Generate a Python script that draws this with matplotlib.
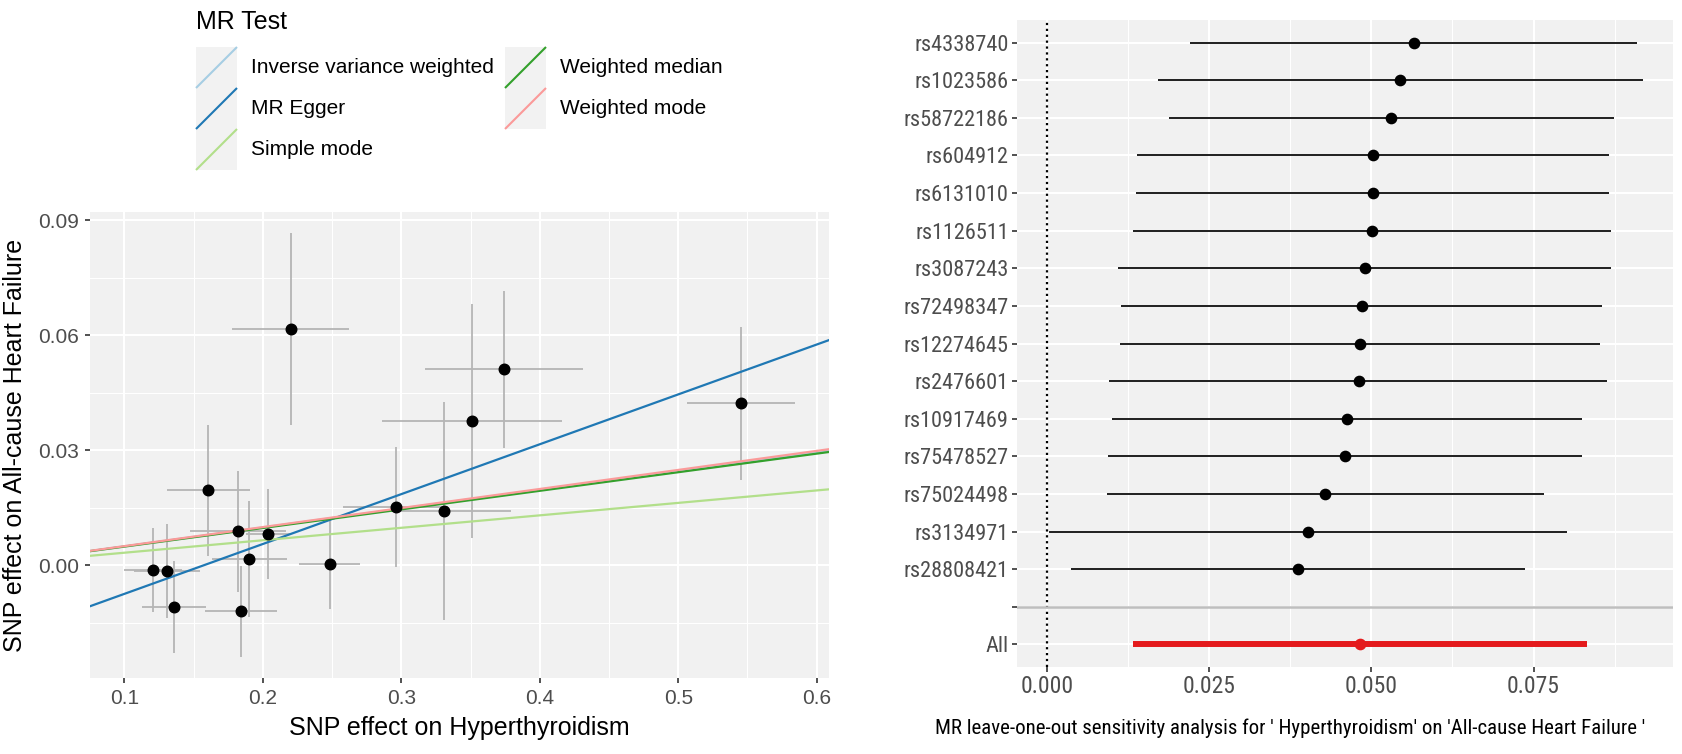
import numpy as np
import matplotlib
matplotlib.use("Agg")
import matplotlib.pyplot as plt
from matplotlib import font_manager
from matplotlib.patches import Rectangle

W, H, DPI = 1682, 754, 100

# --- left panel: SNP effects (exposure vs outcome) ---
beta_exp = [0.1205, 0.1308, 0.1361, 0.1606, 0.1821, 0.1904, 0.1846, 0.2039,
            0.2201, 0.2482, 0.2960, 0.3310, 0.3514, 0.3740, 0.5456]
se_exp = [0.021, 0.024, 0.023, 0.030, 0.035, 0.027, 0.026, 0.016,
          0.042, 0.022, 0.038, 0.048, 0.065, 0.057, 0.039]
beta_out = [-0.0013, -0.0015, -0.0109, 0.0195, 0.0088, 0.0016, -0.0120, 0.0082,
            0.0616, 0.0004, 0.0151, 0.0141, 0.0376, 0.0511, 0.0422]
se_out = [0.0110, 0.0123, 0.0121, 0.0170, 0.0157, 0.0152, 0.0119, 0.0118,
          0.0250, 0.0119, 0.0157, 0.0284, 0.0306, 0.0205, 0.0200]

methods = ["Inverse variance weighted", "MR Egger", "Simple mode",
           "Weighted median", "Weighted mode"]
slopes = [0.0492, 0.1301, 0.0325, 0.0485, 0.0497]
intercepts = [0.0, -0.0205, 0.0, 0.0, 0.0]
method_colors = ["#a6cee3", "#1f78b4", "#b2df8a", "#33a02c", "#fb9a99"]

# --- right panel: leave-one-out ---
snps = ["rs4338740", "rs1023586", "rs58722186", "rs604912", "rs6131010",
        "rs1126511", "rs3087243", "rs72498347", "rs12274645", "rs2476601",
        "rs10917469", "rs75478527", "rs75024498", "rs3134971", "rs28808421"]
loo_b = [0.0566, 0.0545, 0.0531, 0.0503, 0.0503, 0.0501, 0.0490, 0.0485,
         0.0482, 0.0481, 0.0463, 0.0459, 0.0429, 0.0402, 0.0387]
loo_lo = [0.0221, 0.0171, 0.0188, 0.0139, 0.0138, 0.0133, 0.0110, 0.0115,
          0.0113, 0.0096, 0.0101, 0.0094, 0.0092, 0.0003, 0.0038]
loo_up = [0.0910, 0.0919, 0.0874, 0.0867, 0.0866, 0.0870, 0.0870, 0.0856,
          0.0853, 0.0863, 0.0825, 0.0824, 0.0766, 0.0802, 0.0737]
all_b, all_lo, all_up = 0.0483, 0.0133, 0.0833

x_ticks_left = [0.1, 0.2, 0.3, 0.4, 0.5, 0.6]
y_ticks_left = [0.00, 0.03, 0.06, 0.09]
x_ticks_right = [0.000, 0.025, 0.050, 0.075]


def pick_font(names):
    avail = {f.name for f in font_manager.fontManager.ttflist}
    for n in names:
        if n in avail:
            return n
    return "DejaVu Sans"


SANS = pick_font(["Liberation Sans", "Arial", "DejaVu Sans"])
NARROW = pick_font(["Liberation Sans Narrow", "Roboto Condensed", "Liberation Sans"])

PANEL = "#f1f1f1"
GRID = "white"


def gg_lim(lo, hi, mult=0.05):
    r = hi - lo
    return lo - mult * r, hi + mult * r


def px_axes(fig, x0, y0, x1, y1):
    # pixel box (top-left origin) -> figure fraction
    return fig.add_axes([x0 / W, 1 - y1 / H, (x1 - x0) / W, (y1 - y0) / H])


fig = plt.figure(figsize=(W / DPI, H / DPI), dpi=DPI)

# overlay in pixel units for legend and free text
lax = fig.add_axes([0, 0, 1, 1])
lax.set_xlim(0, W)
lax.set_ylim(H, 0)
lax.axis("off")

# ---------- left scatter ----------
ax = px_axes(fig, 90, 212, 829, 678)
ax.set_facecolor(PANEL)
bx = np.array(beta_exp); sx = np.array(se_exp)
by = np.array(beta_out); sy = np.array(se_out)
ax.set_xlim(*gg_lim((bx - sx).min(), (bx + sx).max()))
ax.set_ylim(*gg_lim((by - sy).min(), (by + sy).max()))
ax.set_xticks(x_ticks_left)
ax.set_xticks([0.15, 0.25, 0.35, 0.45, 0.55], minor=True)
ax.set_yticks(y_ticks_left)
ax.set_yticks([-0.015, 0.015, 0.045, 0.075], minor=True)
ax.grid(which="major", color=GRID, lw=1.5, zorder=0)
ax.grid(which="minor", color=GRID, lw=0.75, zorder=0)
ax.set_axisbelow(True)
ax.errorbar(bx, by, yerr=sy, fmt="none", ecolor="#b5b5b5", elinewidth=1.3,
            capsize=0, zorder=2)
ax.errorbar(bx, by, xerr=sx, fmt="none", ecolor="#b5b5b5", elinewidth=1.3,
            capsize=0, zorder=2)
ax.plot(bx, by, "o", color="black", ms=7.6, zorder=4)
for m, s, b, c in zip(methods, slopes, intercepts, method_colors):
    ax.axline((0, b), slope=s, color=c, lw=1.6, zorder=3)
ax.set_xticklabels([f"{v:.1f}" for v in x_ticks_left])
ax.set_yticklabels([f"{v:.2f}" for v in y_ticks_left])
for sp in ax.spines.values():
    sp.set_visible(False)
ax.tick_params(which="major", length=3.6, width=1.2, color="#333333",
               labelcolor="#4d4d4d", labelsize=15, pad=4)
ax.tick_params(which="minor", length=0)
for t in ax.get_xticklabels() + ax.get_yticklabels():
    t.set_fontfamily(SANS)
ax.set_xlabel("SNP effect on Hyperthyroidism", fontsize=18, family=SANS, labelpad=6)
ax.set_ylabel("SNP effect on All-cause Heart Failure", fontsize=18, family=SANS,
              labelpad=8)

# legend (drawn on overlay)
lax.text(196, 22, "MR Test", fontsize=18, family=SANS, va="center", ha="left")
key_cols = [(196, 251), (505, 560)]
key_rows = [(47, 88), (88, 129), (129, 170)]
order = [(0, 0), (0, 1), (0, 2), (1, 0), (1, 1)]
for (ci, ri), m, c in zip(order, methods, method_colors):
    kx, tx = key_cols[ci]
    y0, y1 = key_rows[ri]
    lax.add_patch(Rectangle((kx, y0), 41, y1 - y0, facecolor="#f2f2f2",
                            edgecolor="none"))
    lax.plot([kx, kx + 41], [y1, y0], color=c, lw=1.5, solid_capstyle="butt")
    lax.text(tx, (y0 + y1) / 2, m, fontsize=15, family=SANS, va="center", ha="left")

# ---------- right leave-one-out ----------
ax2 = px_axes(fig, 1017, 20, 1673, 667)
ax2.set_facecolor(PANEL)
n = len(snps)
ypos = np.arange(n + 2, 2, -1)  # top SNP at n+2, All at 1, blank at 2
ax2.set_ylim(0.4, n + 2 + 0.6)
ax2.set_xlim(*gg_lim(min(0, min(loo_lo)), max(loo_up)))
ax2.set_xticks(x_ticks_right)
ax2.set_xticks([0.0125, 0.0375, 0.0625, 0.0875], minor=True)
ax2.set_yticks(list(ypos) + [2, 1])
ax2.set_yticklabels(snps + ["", "All"])
ax2.grid(which="major", color=GRID, lw=1.5, zorder=0)
ax2.grid(which="minor", axis="x", color=GRID, lw=0.75, zorder=0)
ax2.set_axisbelow(True)
ax2.axvline(0, color="black", ls=":", lw=1.6, zorder=2)
ax2.hlines(ypos, loo_lo, loo_up, color="#1e1e1e", lw=1.4, zorder=3)
ax2.plot(loo_b, ypos, "o", color="black", ms=7.4, zorder=4)
ax2.hlines([1], [all_lo], [all_up], color="#e41a1c", lw=4.3, zorder=3)
ax2.plot([all_b], [1], "o", color="#e41a1c", ms=7.4, zorder=4)
ax2.axhline(2, color="#bebebe", lw=1.8, zorder=2)
ax2.set_xticklabels([f"{v:.3f}" for v in x_ticks_right])
for sp in ax2.spines.values():
    sp.set_visible(False)
ax2.tick_params(which="major", length=3.5, width=1.2, color="#333333",
                labelcolor="#4d4d4d", pad=2.5)
ax2.tick_params(which="minor", length=0)
for t in ax2.get_yticklabels():
    t.set_fontfamily(NARROW); t.set_fontsize(16)
for t in ax2.get_xticklabels():
    t.set_fontfamily(NARROW); t.set_fontsize(17)
lax.text(1290, 728,
         "MR leave-one-out sensitivity analysis for ' Hyperthyroidism' on 'All-cause Heart Failure '",
         fontsize=15, family=NARROW, ha="center", va="center")

fig.savefig("out.png", dpi=DPI)
